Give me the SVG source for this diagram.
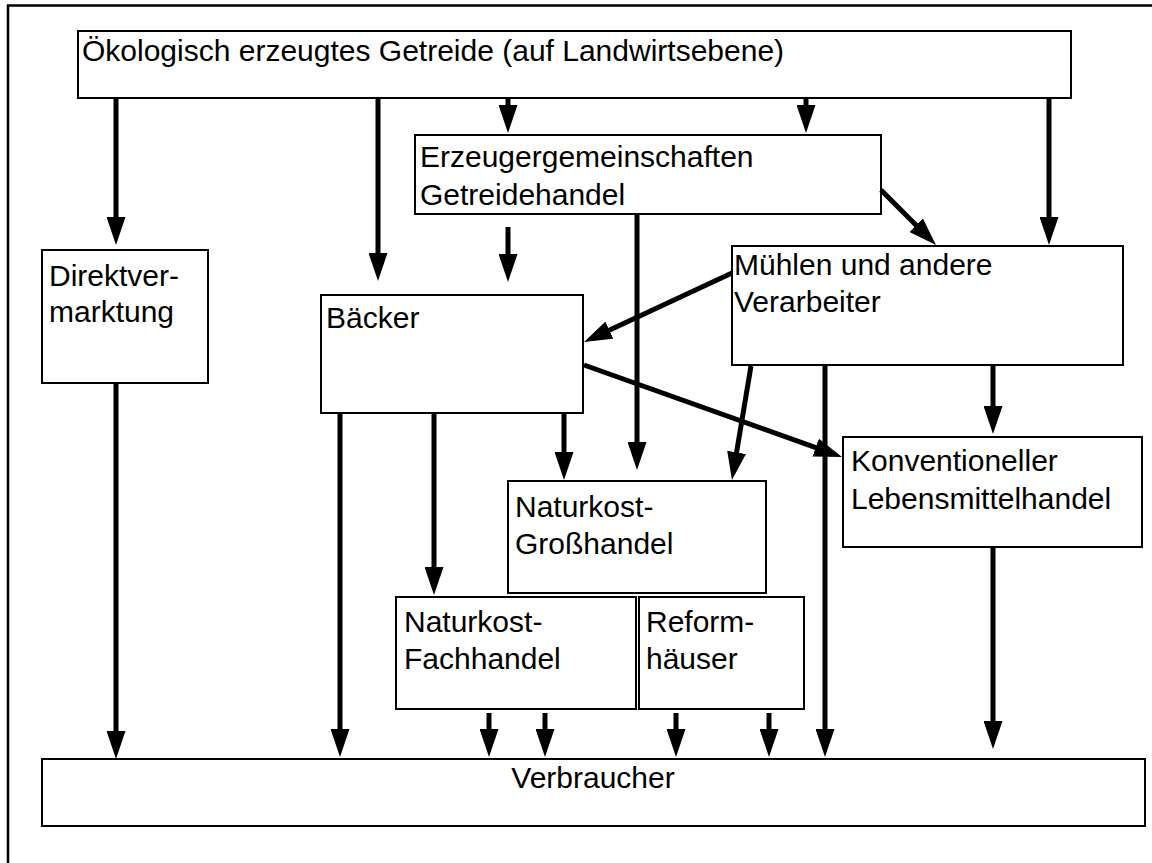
<svg xmlns="http://www.w3.org/2000/svg" width="1152" height="863" viewBox="0 0 1152 863">
<style>
.box{fill:#fff;stroke:#000;stroke-width:2}
.t{font-family:"Liberation Sans",Arial,sans-serif;font-size:30px;fill:#000}
.c line{stroke:#000;stroke-width:5;marker-end:url(#ah)}
.c line.plain{marker-end:none}
.frame{stroke:#000;stroke-width:2.5;fill:none}
</style>
<defs>
<marker id="ah" markerUnits="userSpaceOnUse" markerWidth="28" markerHeight="19" viewBox="0 0 28 19" refX="18" refY="9.5" orient="auto">
<path d="M0,0 L28,9.5 L0,19 z" fill="#000"/>
</marker>
</defs>
<rect width="1152" height="863" fill="#fff"/>
<path class="frame" d="M8,863 V5.5 H1152"/>

<g id="oeko">
<rect class="box" x="78" y="31" width="993" height="67"/>
<text class="t" x="82" y="61">Ökologisch erzeugtes Getreide (auf Landwirtsebene)</text>
</g>
<g id="erzeuger">
<rect class="box" x="415" y="135" width="466" height="79"/>
<text class="t" x="420" y="167">Erzeugergemeinschaften</text>
<text class="t" x="420" y="205">Getreidehandel</text>
</g>
<g id="direkt">
<rect class="box" x="42" y="250" width="166" height="133"/>
<text class="t" x="49" y="286">Direktver-</text>
<text class="t" x="49" y="322">marktung</text>
</g>
<g id="baecker">
<rect class="box" x="321" y="295" width="262" height="118"/>
<text class="t" x="326" y="328">Bäcker</text>
</g>
<g id="muehlen">
<rect class="box" x="732" y="246" width="391" height="119"/>
<text class="t" x="734" y="275">Mühlen und andere</text>
<text class="t" x="734" y="312">Verarbeiter</text>
</g>
<g id="konv">
<rect class="box" x="843" y="437" width="299" height="110"/>
<text class="t" x="851" y="471">Konventioneller</text>
<text class="t" x="851" y="509">Lebensmittelhandel</text>
</g>
<g id="grosshandel">
<rect class="box" x="508" y="481" width="258" height="112"/>
<text class="t" x="515" y="517">Naturkost-</text>
<text class="t" x="515" y="554">Großhandel</text>
</g>
<g id="fachhandel">
<rect class="box" x="396" y="597" width="240" height="112"/>
<text class="t" x="404" y="632">Naturkost-</text>
<text class="t" x="404" y="669">Fachhandel</text>
</g>
<g id="reform">
<rect class="box" x="639" y="597" width="165" height="112"/>
<text class="t" x="646" y="632">Reform-</text>
<text class="t" x="646" y="669">häuser</text>
</g>
<g id="verbraucher">
<rect class="box" x="42" y="759" width="1103" height="67"/>
<text class="t" x="593" y="788" text-anchor="middle">Verbraucher</text>
</g>

<g class="c" id="connectors">
<line x1="116" y1="98" x2="116" y2="235"/>
<line x1="378" y1="98" x2="378" y2="271"/>
<line x1="508" y1="98" x2="508" y2="123"/>
<line x1="806" y1="98" x2="806" y2="123"/>
<line x1="1049" y1="98" x2="1049" y2="235"/>
<line x1="508" y1="227" x2="508" y2="272"/>
<line x1="637" y1="214" x2="637" y2="460"/>
<line x1="881" y1="190" x2="928.9" y2="237.9"/>
<line x1="732" y1="273" x2="593.1" y2="337.8"/>
<line x1="584" y1="365" x2="832.6" y2="453.6"/>
<line x1="751" y1="366" x2="733.6" y2="470.1"/>
<line x1="993" y1="365" x2="993" y2="424"/>
<line x1="825" y1="365" x2="825" y2="747"/>
<line x1="340" y1="413" x2="340" y2="747"/>
<line x1="434" y1="413" x2="434" y2="585"/>
<line x1="564" y1="413" x2="564" y2="470"/>
<line x1="116" y1="383" x2="116" y2="749"/>
<line x1="993" y1="547" x2="993" y2="739"/>
<line x1="489" y1="713" x2="489" y2="747"/>
<line x1="545" y1="713" x2="545" y2="747"/>
<line x1="676" y1="713" x2="676" y2="747"/>
<line x1="769" y1="713" x2="769" y2="747"/>
</g>
</svg>
